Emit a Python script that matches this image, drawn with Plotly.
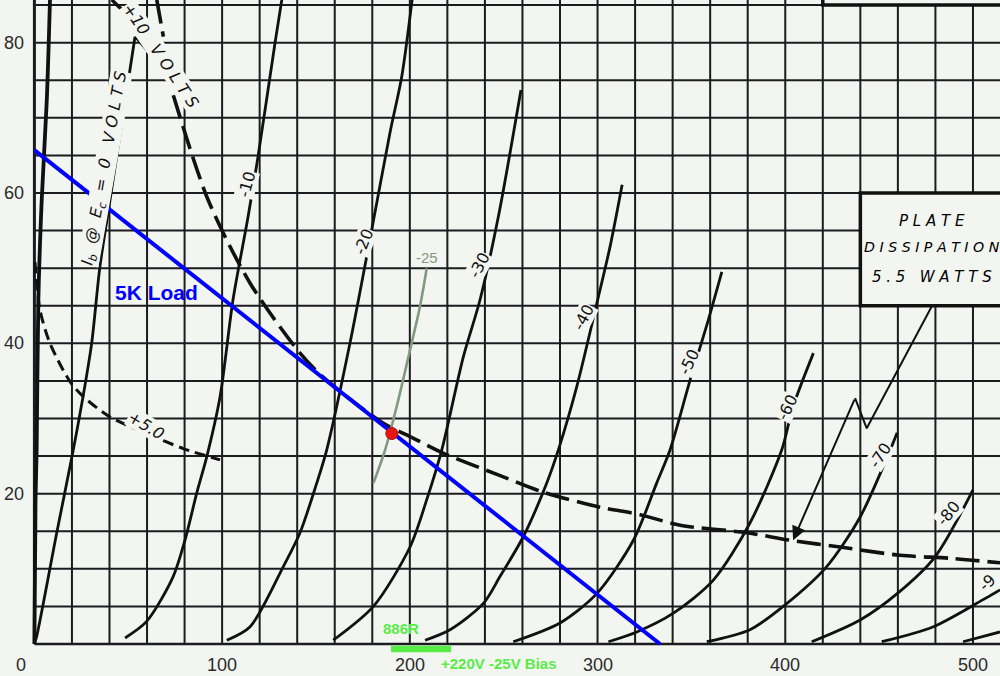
import plotly.graph_objects as go

BG = '#f3f5f1'
INK = '#1c1c20'
GREEN = '#58ec46'

# ---------------- axes / grid ----------------
X_RANGE = [-18.33, 514.4]
Y_RANGE = [-4.26, 85.68]
grid_volts = [0, 20, 40, 60, 80, 100, 120, 140, 160, 180, 200, 220, 240, 260,
              280, 300, 320, 340, 360, 380, 400, 420, 440, 460, 480, 500, 520]
grid_ma = [0, 5, 10, 15, 20, 25, 30, 35, 40, 45, 50, 55, 60, 65, 70, 75, 80, 85]

x_ticks = [0, 100, 200, 300, 400, 500]
x_tick_labels = ['0', '100', '200', '300', '400', '500']
y_ticks = [20, 40, 60, 80]
y_tick_labels = ['20', '40', '60', '80']

# ---------------- plate characteristic curves (Eb volts, Ib mA) ----------------
ecp10_v = [0, 0.6, 1.2, 2.1, 3.9, 6.6, 8.3]
ecp10_i = [0, 19.2, 25.8, 45.8, 59.1, 72.4, 85.7]

ec0_v = [0, 1.2, 11.9, 20.7, 25.9, 30.5, 34.9, 40.3, 53.6]
ec0_i = [0, 1.0, 14.8, 25.8, 32.9, 40.0, 50.2, 59.1, 80.8]
ec0_lead_v = [53.6, 59.8]
ec0_lead_i = [80.8, 79.0]

ec10_v = [48.3, 59.8, 73.8, 80.2, 86.5, 91.8, 98.9, 105.8, 113.8, 119.1, 128.2, 131.8]
ec10_i = [0.8, 3.0, 8.9, 13.8, 20.1, 24.9, 32.9, 45.8, 56.8, 64.8, 80.0, 85.7]

ec20_v = [102.5, 114.9, 132.6, 141.5, 150.4, 155.7, 168.1, 179.7, 189.4, 195.7, 201.2]
ec20_i = [0.5, 2.3, 10.3, 14.8, 21.4, 25.8, 40.0, 55.1, 68.0, 75.5, 85.7]

ec30_v = [159.2, 180.6, 200.1, 209.0, 217.0, 228.5, 237.4, 247.2, 259.2]
ec30_i = [0.5, 5.0, 12.9, 19.2, 25.8, 38.2, 45.8, 56.9, 73.7]

ec40_v = [208.1, 221.4, 239.2, 248.1, 260.5, 272.9, 279.1, 288.9, 299.6, 306.7, 313.1]
ec40_i = [0.5, 1.9, 5.4, 9.0, 14.3, 21.4, 25.8, 34.2, 45.3, 52.9, 61.1]

ec50_v = [255.1, 280.0, 299.6, 319.1, 331.5, 338.6, 349.3, 359.0, 366.2]
ec50_i = [0.3, 2.8, 6.7, 13.8, 21.4, 25.8, 35.1, 43.1, 49.5]

ec60_v = [305.8, 320.9, 340.4, 361.7, 381.2, 398.1, 404.2, 415.0]
ec60_i = [0.3, 1.6, 4.1, 8.5, 16.1, 25.8, 31.6, 38.7]

ec70_v = [358.2, 381.2, 399.9, 422.1, 439.9, 455.9, 459.6]
ec70_i = [0.3, 1.9, 5.2, 10.3, 16.9, 25.8, 28.1]

ec80_v = [414.1, 439.9, 460.1, 479.8, 500.0]
ec80_i = [0.3, 3.2, 6.8, 11.6, 20.5]

ec90_v = [451.4, 478.9, 505.4, 514.4]
ec90_i = [0.3, 2.3, 5.9, 7.2]

ec100_v = [494.7, 514.4]
ec100_i = [0.3, 1.6]

# grid-current dashed curves
ic5_v = [0.3, 3.0, 8.3, 19.0, 26.1, 40.3, 59.8, 79.3, 98.9]
ic5_i = [50.8, 44.4, 40.0, 34.9, 32.9, 30.2, 28.0, 26.0, 24.5]
ic10_v = [41.2, 46.5]
ic10_i = [85.7, 84.4]

# plate dissipation 5.5 W (two pieces, broken by the label)
pd_top_v = [65.2, 68.7]
pd_top_i = [85.7, 80.8]
pd_v = [74.0, 92.5, 114.9, 141.5, 153.8, 185.7, 201.7, 217.7, 248.1, 271.0,
        301.4, 322.7, 344.0, 379.7, 402.6, 429.2, 461.2, 487.8, 514.4]
pd_i = [73.0, 59.1, 48.0, 38.7, 35.5, 29.4, 27.4, 25.4, 22.4, 20.2,
        18.2, 17.2, 15.8, 14.8, 13.8, 12.9, 11.8, 11.4, 10.8]

# -25 V interpolated curve (grey-green)
ec25_v = [180.6, 186.8, 193.0, 200.1, 205.4, 209.0]
ec25_i = [21.4, 25.8, 31.6, 39.1, 44.9, 50.0]

# 5K load line and operating point
load_v = [0, 333.3]
load_i = [65.7, 0]
op_v = [190.4]
op_i = [28.0]

# leader arrow from the plate dissipation box
arrow_v = [478.0, 443.4, 437.2]
arrow_i = [44.9, 28.7, 32.7]
arrow_tip = (404.2, 13.8)

# bias marker bar
bias_bar_v = [190, 222]
bias_bar_i = [-0.67, -0.67]

# curve labels (the -90 label is cut by the chart edge in the source: "-9")
curve_label_text = ['-10', '-20', '-30', '-40', '-50', '-60', '-70', '-80', '-9']
curve_label_v = [113.5, 175.6, 236.8, 292.6, 348.5, 401.0, 450.5, 487.0, 507.6]
curve_label_i = [61.2, 53.5, 50.4, 43.4, 37.5, 31.5, 25.1, 17.3, 8.2]
curve_label_angle = [-75, -68, -62, -62, -64, -63, -56, -50, -42]

fig = go.Figure()

shapes = []
for v in grid_volts:
    shapes.append(dict(type='line', xref='x', yref='y', x0=v, x1=v, y0=0, y1=Y_RANGE[1],
                       line=dict(color=INK, width=3 if v == 0 else 2), layer='below'))
for i in grid_ma:
    shapes.append(dict(type='line', xref='x', yref='y', x0=0, x1=X_RANGE[1], y0=i, y1=i,
                       line=dict(color=INK, width=2.6 if i == 0 else 2), layer='below'))
# boxes
shapes.append(dict(type='rect', xref='x', yref='y', x0=440, x1=530, y0=45, y1=60,
                   fillcolor=BG, line=dict(color='#111', width=3.5), layer='above'))
shapes.append(dict(type='rect', xref='x', yref='y', x0=420, x1=530, y0=85, y1=92,
                   fillcolor=BG, line=dict(color='#111', width=3.5), layer='above'))


def curve(v, i, width=2.8, color='#111', dash=None, shape='spline'):
    fig.add_trace(go.Scatter(x=v, y=i, mode='lines', hoverinfo='skip',
                             line=dict(color=color, width=width, dash=dash,
                                       shape=shape, smoothing=0.8)))


curve(ecp10_v, ecp10_i, width=3.8)
for v, i in [(ec0_v, ec0_i), (ec10_v, ec10_i), (ec20_v, ec20_i), (ec30_v, ec30_i),
             (ec40_v, ec40_i), (ec50_v, ec50_i), (ec60_v, ec60_i), (ec70_v, ec70_i),
             (ec80_v, ec80_i), (ec90_v, ec90_i), (ec100_v, ec100_i)]:
    curve(v, i)
curve(ec0_lead_v, ec0_lead_i, width=2.2, shape='linear')
curve(ic5_v, ic5_i, width=3, dash='11px,6px')
curve(ic10_v, ic10_i, width=3.5, shape='linear')
curve(pd_top_v, pd_top_i, width=3.6, dash='24px,8px')
curve(pd_v, pd_i, width=3.6, dash='24px,8px')
curve(ec25_v, ec25_i, width=2.6, color='#7f9a80')
curve(arrow_v, arrow_i, width=2, shape='linear')
curve(load_v, load_i, width=4, color='#0000ff', shape='linear')
curve(bias_bar_v, bias_bar_i, width=6.5, color=GREEN, shape='linear')
fig.add_trace(go.Scatter(x=op_v, y=op_i, mode='markers', hoverinfo='skip',
                         marker=dict(size=12, color='#e8150f',
                                     line=dict(color='#a01010', width=1))))

ann = []
# arrow head onto the dissipation curve
ann.append(dict(x=arrow_tip[0], y=arrow_tip[1], ax=arrow_v[-1], ay=arrow_i[-1],
                xref='x', yref='y', axref='x', ayref='y', text='', showarrow=True,
                arrowhead=2, arrowsize=1.4, arrowwidth=2, arrowcolor='#111'))

tick_font = dict(family='Liberation Sans, Arial', size=18, color='#2a2a2a')
for v, t in zip(x_ticks, x_tick_labels):
    ann.append(dict(x=v, y=-2.8, xref='x', yref='y', text=t, showarrow=False,
                    font=tick_font, xshift=-13 if v == 0 else 0))
for i, t in zip(y_ticks, y_tick_labels):
    ann.append(dict(x=-10.9, y=i, xref='x', yref='y', text=t, showarrow=False,
                    font=tick_font))

lab_font = dict(family='DejaVu Sans', size=16, color='#111')
for t, v, i, a in zip(curve_label_text, curve_label_v, curve_label_i, curve_label_angle):
    ann.append(dict(x=v, y=i, xref='x', yref='y', text=t, showarrow=False,
                    textangle=a, font=lab_font, bgcolor=BG, borderpad=0))

nb = '\u00a0'
ann.append(dict(x=37.3, y=63.3, xref='x', yref='y', showarrow=False, textangle=-80,
                text='I<sub>b</sub>' + nb * 2 + '@' + nb * 2 + 'E<sub>c</sub>' + nb * 2 + '=' + nb * 2 + '0' + nb * 3 + 'V' + nb + 'O' + nb + 'L' + nb + 'T' + nb + 'S',
                font=dict(family='DejaVu Sans', size=16, color='#111', style='italic'),
                bgcolor=BG, borderpad=0))
ann.append(dict(x=67.3, y=78.3, xref='x', yref='y', showarrow=False, textangle=56,
                text='+10' + nb * 3 + 'V' + nb + 'O' + nb + 'L' + nb + 'T' + nb + 'S',
                font=dict(family='DejaVu Sans', size=16, color='#111', style='italic'),
                bgcolor=BG, borderpad=0))
ann.append(dict(x=59.5, y=29.1, xref='x', yref='y', showarrow=False, textangle=31,
                text='+5.0', font=dict(family='DejaVu Sans', size=16, color='#111', style='italic'),
                bgcolor=BG, borderpad=0))

box_font = dict(family='DejaVu Sans', size=15, color='#000', style='italic')
ann.append(dict(x=478.2, y=56.3, xref='x', yref='y', showarrow=False, font=box_font,
                text=nb.join('PLATE')))
ann.append(dict(x=478.0, y=52.8, xref='x', yref='y', showarrow=False,
                font=dict(family='DejaVu Sans', size=14.2, color='#000', style='italic'),
                text=nb.join('DISSIPATION')))
ann.append(dict(x=478.2, y=48.8, xref='x', yref='y', showarrow=False, font=box_font,
                text=nb.join('5.5') + nb * 3 + nb.join('WATTS')))

ann.append(dict(x=64.8, y=46.7, xref='x', yref='y', showarrow=False, text='5K Load',
                font=dict(family='Liberation Sans, Arial', size=21, color='#0000ff', weight='bold')))
ann.append(dict(x=209.2, y=51.4, xref='x', yref='y', showarrow=False, text='-25',
                font=dict(family='Liberation Sans, Arial', size=15, color='#7f9a80')))
ann.append(dict(x=195.3, y=2.0, xref='x', yref='y', showarrow=False, text='886R',
                font=dict(family='Liberation Sans, Arial', size=15, color=GREEN, weight='bold')))
ann.append(dict(x=247.3, y=-2.66, xref='x', yref='y', showarrow=False, text='+220V -25V Bias',
                font=dict(family='Liberation Sans, Arial', size=15, color=GREEN, weight='bold')))

fig.update_layout(
    width=1000, height=676,
    margin=dict(l=0, r=0, t=0, b=0),
    paper_bgcolor=BG, plot_bgcolor=BG,
    showlegend=False,
    xaxis=dict(range=X_RANGE, visible=False, fixedrange=True),
    yaxis=dict(range=Y_RANGE, visible=False, fixedrange=True),
    shapes=shapes,
    annotations=ann,
)

fig.write_html('out.html', config={'displayModeBar': False},
               post_script="document.body.style.margin='0';document.body.style.overflow='hidden';")
